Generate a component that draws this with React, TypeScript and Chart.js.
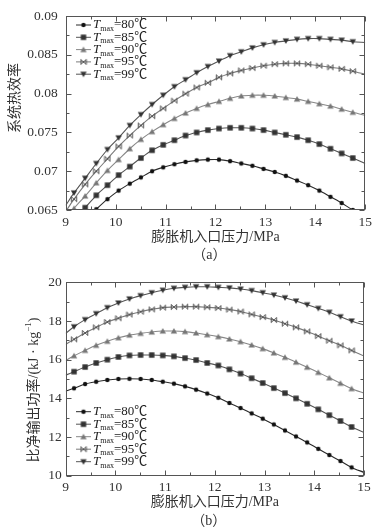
import React, { useEffect, useRef } from 'react';
import { Chart, registerables } from 'chart.js';

Chart.register(...registerables);

// ---------- data ----------
const pressure = [9, 9.167, 9.39, 9.613, 9.837, 10.06, 10.283, 10.507, 10.73, 10.953, 11.177, 11.4, 11.623, 11.847, 12.07, 12.293, 12.517, 12.74, 12.963, 13.187, 13.41, 13.633, 13.857, 14.08, 14.303, 14.527, 14.75, 15];

const tempLabels = ['80', '85', '90', '95', '99'];

// (a) system thermal efficiency
const effT80 = [0.0610, 0.0622, 0.0637, 0.0651, 0.0664, 0.0675, 0.0684, 0.0692, 0.0700, 0.0705, 0.0709, 0.0712, 0.0714, 0.0715, 0.0715, 0.0713, 0.0710, 0.0707, 0.0703, 0.0699, 0.0694, 0.0688, 0.0682, 0.0675, 0.0667, 0.0659, 0.0650, 0.0642];
const effT85 = [0.0625, 0.0638, 0.0653, 0.0669, 0.0682, 0.0695, 0.0706, 0.0717, 0.0727, 0.0734, 0.0740, 0.0746, 0.0750, 0.0753, 0.0755, 0.0756, 0.0756, 0.0755, 0.0753, 0.0750, 0.0747, 0.0744, 0.0740, 0.0735, 0.0729, 0.0723, 0.0717, 0.0710];
const effT90 = [0.0637, 0.0652, 0.0668, 0.0685, 0.0701, 0.0715, 0.0729, 0.0741, 0.0751, 0.0760, 0.0768, 0.0775, 0.0781, 0.0786, 0.0790, 0.0794, 0.0797, 0.0798, 0.0798, 0.0797, 0.0795, 0.0793, 0.0790, 0.0787, 0.0784, 0.0780, 0.0776, 0.0772];
const effT95 = [0.0648, 0.0664, 0.0683, 0.0700, 0.0716, 0.0732, 0.0746, 0.0759, 0.0771, 0.0781, 0.0791, 0.0800, 0.0808, 0.0814, 0.0821, 0.0826, 0.0830, 0.0833, 0.0836, 0.0838, 0.0839, 0.0839, 0.0838, 0.0836, 0.0834, 0.0832, 0.0829, 0.0825];
const effT99 = [0.0656, 0.0672, 0.0691, 0.0710, 0.0728, 0.0743, 0.0759, 0.0773, 0.0786, 0.0798, 0.0809, 0.0818, 0.0827, 0.0835, 0.0842, 0.0849, 0.0854, 0.0859, 0.0863, 0.0866, 0.0868, 0.0870, 0.0871, 0.0871, 0.0870, 0.0869, 0.0867, 0.0866];

// (b) specific net output work, kJ/kg
const workT80 = [14.37, 14.52, 14.74, 14.86, 14.95, 15.00, 15.01, 15.00, 14.95, 14.86, 14.76, 14.62, 14.45, 14.25, 14.03, 13.76, 13.50, 13.22, 12.95, 12.65, 12.34, 12.03, 11.72, 11.39, 11.07, 10.76, 10.43, 10.17];
const workT85 = [15.20, 15.38, 15.62, 15.83, 16.00, 16.14, 16.22, 16.24, 16.24, 16.22, 16.17, 16.08, 15.98, 15.83, 15.70, 15.50, 15.28, 15.04, 14.79, 14.53, 14.27, 14.00, 13.72, 13.43, 13.13, 12.83, 12.52, 12.24];
const workT90 = [15.95, 16.20, 16.48, 16.74, 16.95, 17.13, 17.27, 17.36, 17.43, 17.48, 17.48, 17.45, 17.38, 17.29, 17.19, 17.07, 16.93, 16.76, 16.57, 16.35, 16.12, 15.87, 15.61, 15.34, 15.06, 14.78, 14.50, 14.27];
const workT95 = [16.79, 17.05, 17.38, 17.67, 17.95, 18.14, 18.33, 18.48, 18.60, 18.69, 18.72, 18.74, 18.74, 18.71, 18.67, 18.59, 18.49, 18.34, 18.20, 18.05, 17.86, 17.67, 17.46, 17.22, 16.98, 16.74, 16.48, 16.19];
const workT99 = [17.36, 17.70, 18.07, 18.38, 18.69, 18.93, 19.14, 19.31, 19.46, 19.59, 19.69, 19.74, 19.77, 19.77, 19.74, 19.71, 19.65, 19.57, 19.46, 19.34, 19.20, 19.03, 18.84, 18.65, 18.45, 18.22, 18.00, 17.79];

const xTickValues = [9, 10, 11, 12, 13, 14, 15];
const effTickValues = [0.065, 0.07, 0.075, 0.08, 0.085, 0.09];
const workTickValues = [10, 12, 14, 16, 18, 20];

const xTitle = '膨胀机入口压力/MPa';
const effTitle = '系统热效率';
const workTitleMain = '比净输出功率/(kJ · kg';
const workTitleSup = '−1';
const workTitleEnd = ')';
const captionA = '（a）';
const captionB = '（b）';

// ---------- styling ----------
const SERIF = '"Liberation Serif", "Noto Sans CJK SC", serif';
const CAPTION_FONT = '"Liberation Serif", "Noto Sans CJK TC", serif';
const TEXT = '#333';
const AXIS = '#555';

const seriesStyles = [
  { kind: 'circle', line: '#2a2a2a', mark: '#111' },
  { kind: 'square', line: '#555', mark: '#333' },
  { kind: 'tri', line: '#888', mark: '#777' },
  { kind: 'bowtie', line: '#7a7a7a', mark: '#555' },
  { kind: 'tridown', line: '#555', mark: '#333' },
];

function markerCanvas(kind: string, color: string): HTMLCanvasElement {
  const c = document.createElement('canvas');
  c.width = 8;
  c.height = 8;
  const g = c.getContext('2d')!;
  g.fillStyle = color;
  g.strokeStyle = color;
  g.lineWidth = 1;
  g.beginPath();
  if (kind === 'circle') {
    g.arc(4, 4, 2.2, 0, Math.PI * 2);
    g.fill();
  } else if (kind === 'square') {
    g.fillRect(1.3, 1.3, 5.4, 5.4);
  } else if (kind === 'tri') {
    g.moveTo(4, 1);
    g.lineTo(7.2, 6.5);
    g.lineTo(0.8, 6.5);
    g.closePath();
    g.fill();
  } else if (kind === 'tridown') {
    g.moveTo(0.8, 1.5);
    g.lineTo(7.2, 1.5);
    g.lineTo(4, 7);
    g.closePath();
    g.fill();
  } else {
    g.moveTo(1.3, 1.6);
    g.lineTo(6.7, 6.4);
    g.moveTo(1.3, 6.4);
    g.lineTo(6.7, 1.6);
    g.moveTo(1.3, 1.3);
    g.lineTo(1.3, 6.7);
    g.moveTo(6.7, 1.3);
    g.lineTo(6.7, 6.7);
    g.stroke();
  }
  return c;
}

function midpoints(arr: number[]): number[] {
  const out: number[] = [];
  for (let i = 0; i < arr.length - 1; i++) out.push((arr[i] + arr[i + 1]) / 2);
  return out;
}

// ---------- decoration plugin (frame, inward ticks, y title, legend, caption) ----------
const decorPlugin = {
  id: 'decor',
  afterDraw(chart: any, _args: any, o: any) {
    const { ctx, chartArea: a, scales } = chart;
    const xs = scales.x;
    const ys = scales.y;
    ctx.save();
    ctx.strokeStyle = AXIS;
    ctx.lineWidth = 1;
    const L = Math.round(a.left) + 0.5;
    const R = Math.round(a.right) - 0.5;
    const T = Math.round(a.top) + 0.5;
    const B = Math.round(a.bottom) - 0.5;
    ctx.strokeRect(L, T, R - L, B - T);
    ctx.beginPath();
    const xMin = midpoints(xTickValues);
    const yMaj = o.yTicks as number[];
    const yMin = midpoints(yMaj);
    const drawX = (v: number, len: number) => {
      const p = Math.round(xs.getPixelForValue(v)) + 0.5;
      ctx.moveTo(p, B);
      ctx.lineTo(p, B - len);
      ctx.moveTo(p, T);
      ctx.lineTo(p, T + len);
    };
    const drawY = (v: number, len: number) => {
      const p = Math.round(ys.getPixelForValue(v)) + 0.5;
      ctx.moveTo(L, p);
      ctx.lineTo(L + len, p);
      ctx.moveTo(R, p);
      ctx.lineTo(R - len, p);
    };
    xTickValues.forEach((v) => drawX(v, 5));
    xMin.forEach((v) => drawX(v, 3));
    yMaj.forEach((v) => drawY(v, 5));
    yMin.forEach((v) => drawY(v, 3));
    ctx.stroke();

    // y title (rotated)
    const segs = o.yTitle as { text: string; size: number; dy: number }[];
    ctx.fillStyle = TEXT;
    ctx.textBaseline = 'middle';
    ctx.textAlign = 'left';
    let total = 0;
    segs.forEach((s) => {
      ctx.font = `${s.size}px ${SERIF}`;
      total += ctx.measureText(s.text).width;
    });
    ctx.save();
    ctx.translate(o.yTitleX, o.yTitleY);
    ctx.rotate(-Math.PI / 2);
    let cx = -total / 2;
    segs.forEach((s) => {
      ctx.font = `${s.size}px ${SERIF}`;
      ctx.fillText(s.text, cx, s.dy);
      cx += ctx.measureText(s.text).width;
    });
    ctx.restore();

    // caption under the x title
    ctx.font = `14px ${CAPTION_FONT}`;
    ctx.textAlign = 'center';
    ctx.fillStyle = TEXT;
    ctx.fillText(o.caption, (a.left + a.right) / 2 - 6, o.captionY);
    ctx.textAlign = 'left';

    // legend
    const lx0 = o.legendX;
    const lx1 = o.legendX + 15;
    chart.data.datasets.forEach((ds: any, i: number) => {
      const y = o.legendY + i * o.legendGap;
      ctx.strokeStyle = ds.borderColor;
      ctx.lineWidth = 1;
      ctx.beginPath();
      ctx.moveTo(lx0, y);
      ctx.lineTo(lx1, y);
      ctx.stroke();
      const img = ds.pointStyle as HTMLCanvasElement;
      ctx.drawImage(img, (lx0 + lx1) / 2 - img.width / 2, y - img.height / 2);
      let tx = lx1 + 2;
      ctx.fillStyle = '#222';
      ctx.font = `italic 13px ${SERIF}`;
      ctx.fillText('T', tx, y);
      tx += ctx.measureText('T').width;
      ctx.font = `8px ${SERIF}`;
      ctx.fillText('max', tx, y + 4);
      tx += ctx.measureText('max').width;
      ctx.font = `13px ${SERIF}`;
      ctx.fillText(`=${tempLabels[i]}℃`, tx, y);
    });
    ctx.restore();
  },
};

function buildConfig(panel: 'a' | 'b'): any {
  const isA = panel === 'a';
  const seriesVals = isA
    ? [effT80, effT85, effT90, effT95, effT99]
    : [workT80, workT85, workT90, workT95, workT99];
  const yTicks = isA ? effTickValues : workTickValues;
  const n = pressure.length;
  const datasets = seriesVals.map((vals, i) => ({
    label: `T${tempLabels[i]}`,
    data: pressure.map((p, k) => ({ x: p, y: vals[k] })),
    borderColor: seriesStyles[i].line,
    borderWidth: 1.1,
    pointStyle: markerCanvas(seriesStyles[i].kind, seriesStyles[i].mark),
    pointRadius: (c: any) => (c.dataIndex === 0 || c.dataIndex === n - 1 ? 0 : 3),
    tension: 0.3,
    fill: false,
  }));
  return {
    type: 'line',
    data: { datasets },
    plugins: [decorPlugin],
    options: {
      animation: false,
      responsive: false,
      devicePixelRatio: 1,
      events: [],
      layout: { padding: { left: 0, right: isA ? 10.3 : 12, top: isA ? 8.3 : 17.3, bottom: 0 } },
      plugins: {
        legend: { display: false },
        tooltip: { enabled: false },
        decor: {
          yTicks,
          yTitle: isA
            ? [{ text: effTitle, size: 14, dy: 0 }]
            : [
                { text: workTitleMain, size: 14, dy: 0 },
                { text: workTitleSup, size: 9, dy: -5 },
                { text: workTitleEnd, size: 14, dy: 0 },
              ],
          yTitleX: isA ? 15 : 34,
          yTitleY: isA ? 98 : 125,
          legendX: 76,
          legendY: isA ? 25 : 146.7,
          legendGap: isA ? 12.3 : 12.5,
          caption: isA ? captionA : captionB,
          captionY: isA ? 255 : 256.5,
        },
      },
      scales: {
        x: {
          type: 'linear',
          min: 9,
          max: 15,
          afterBuildTicks: (s: any) => {
            s.ticks = xTickValues.map((v) => ({ value: v }));
          },
          afterFit: (s: any) => {
            s.height = isA ? 55 : 54.3;
          },
          grid: { display: false, drawTicks: false },
          border: { display: false },
          ticks: {
            font: { family: SERIF, size: 13.5 },
            color: TEXT,
            padding: 4,
            maxRotation: 0,
            autoSkip: false,
            callback: (v: any) => String(v),
          },
          title: {
            display: true,
            text: xTitle,
            font: { family: SERIF, size: 14, lineHeight: 1.3 },
            color: TEXT,
            padding: { top: 0, bottom: 18.6 },
          },
        },
        y: {
          type: 'linear',
          min: isA ? 0.065 : 10,
          max: isA ? 0.09 : 20,
          afterBuildTicks: (s: any) => {
            s.ticks = yTicks.map((v) => ({ value: v }));
          },
          afterFit: (s: any) => {
            s.width = 65.7;
          },
          grid: { display: false, drawTicks: false },
          border: { display: false },
          ticks: {
            font: { family: SERIF, size: 13.5 },
            color: TEXT,
            padding: isA ? 8 : 4,
            autoSkip: false,
            callback: (v: any) => String(v),
          },
        },
      },
    },
  };
}

function Panel({ panel }: { panel: 'a' | 'b' }) {
  const ref = useRef<HTMLCanvasElement>(null);
  useEffect(() => {
    const chart = new Chart(ref.current!, buildConfig(panel));
    return () => chart.destroy();
  }, [panel]);
  return (
    <canvas
      ref={ref}
      width={376}
      height={265}
      style={{ display: 'block', width: 376, height: 265 }}
    />
  );
}

export default function App() {
  useEffect(() => {
    document.body.style.margin = '0';
    document.body.style.background = '#fff';
  }, []);
  return (
    <div style={{ position: 'absolute', left: 0, top: 0, width: 376, height: 530, background: '#fff' }}>
      <Panel panel="a" />
      <Panel panel="b" />
    </div>
  );
}
